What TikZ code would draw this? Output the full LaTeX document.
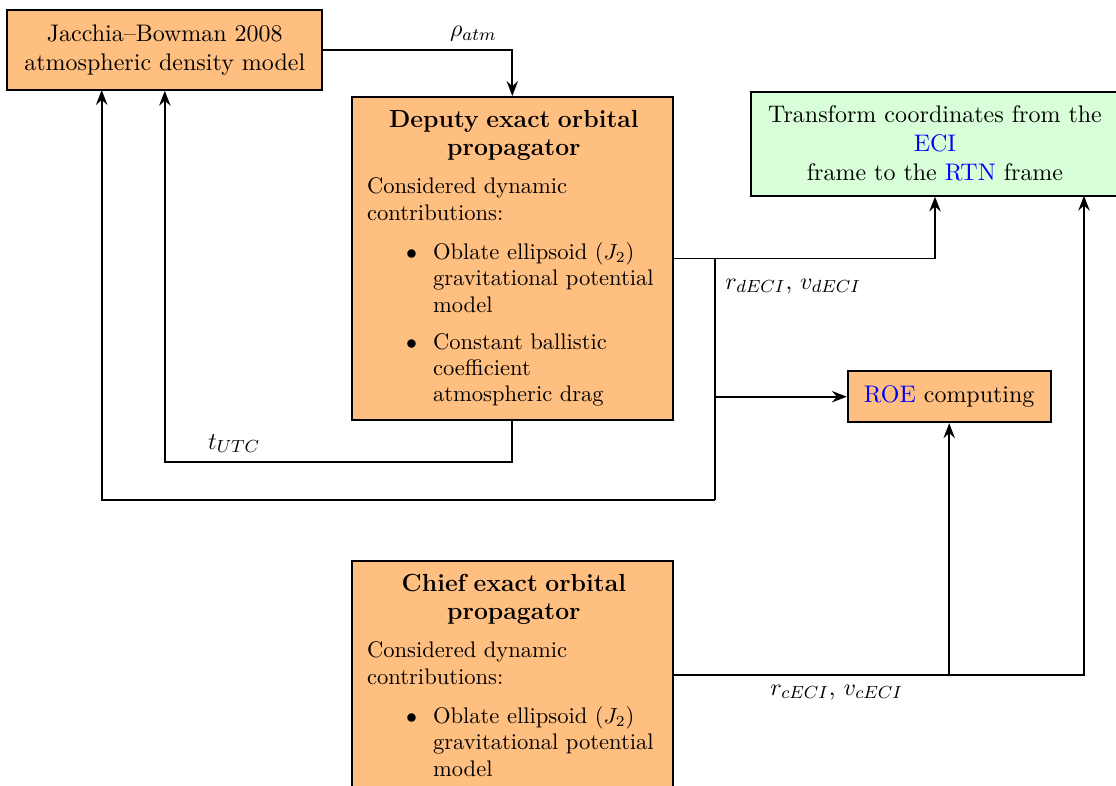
\documentclass[tikz,border=0pt]{standalone}
\usetikzlibrary{arrows.meta,calc}
\newenvironment{blist}{\begin{list}{$\bullet$}{%
  \setlength{\leftmargin}{30.1pt}\setlength{\labelsep}{7.3pt}%
  \setlength{\labelwidth}{20pt}\setlength{\itemsep}{5pt}%
  \setlength{\parsep}{0pt}\setlength{\topsep}{6pt}\setlength{\partopsep}{0pt}}}%
  {\end{list}}
\newcommand{\nohyph}{\hyphenpenalty=10000 \exhyphenpenalty=10000\relax}
\definecolor{boxor}{RGB}{255,191,128}
\definecolor{boxgr}{RGB}{217,255,217}
\tikzset{
  box/.style={draw, line width=0.8pt, fill=boxor, inner sep=0pt, align=center},
  grbox/.style={box, fill=boxgr},
  txt/.style={anchor=base west, inner sep=0pt, text width=134pt, align=left,
    font=\fontsize{10.3}{12}\selectfont},
  arr/.style={line width=0.8pt, -{Stealth[length=6.8pt,width=5.2pt,inset=2.3pt]}},
  ln/.style={line width=0.8pt},
  lab/.style={inner sep=0pt},
}
\newcommand{\ttl}[1]{{\centering\bfseries\fontsize{11.3}{12.8}\selectfont #1\par}\vspace{5.7pt}}
\begin{document}
\begin{tikzpicture}[x=0.4566pt, y=-0.4566pt, font=\fontsize{10.95}{13.2}\selectfont]
\useasboundingbox (0,0) rectangle (1116,785);
\clip (0,0) rectangle (1116,785);

% boxes
\node[box, minimum width=143.8pt, minimum height=36.5pt] (jb) at (164.8,50)
  {Jacchia--Bowman 2008\\atmospheric density model};
\node[box, anchor=north, minimum width=146.7pt, minimum height=147.6pt] (dep) at (512.3,96) {};
\node[box, anchor=north, minimum width=146.7pt, minimum height=104.4pt] (ch) at (512.3,560) {};
\node[grbox, minimum width=168.3pt, minimum height=47.5pt] (tr) at (935,143.7)
  {Transform coordinates from the\\ \textcolor{blue}{ECI}\\ frame to the \textcolor{blue}{RTN} frame};
\node[box, minimum width=92.7pt, minimum height=23.4pt] (roe) at (949.2,396.7)
  {\textcolor{blue}{ROE} computing};

% box texts
\node[txt] (deptxt) at (366.7,127) {\nohyph
  \ttl{Deputy exact orbital\\ propagator}
  Considered dynamic\newline contributions:
  \begin{blist}
  \item Oblate ellipsoid ($J_2$)\newline gravitational potential\newline model
  \item Constant ballistic\newline coefficient\newline atmospheric drag
  \end{blist}};
\node[txt] (chtxt) at (366.7,591) {\nohyph
  \ttl{Chief exact orbital\\ propagator}
  Considered dynamic\newline contributions:
  \begin{blist}
  \item Oblate ellipsoid ($J_2$)\newline gravitational potential\newline model
  \end{blist}};

% helper coordinates
\coordinate (br) at (715,257.65);
\coordinate (bl) at (715,500);
\coordinate (jbl) at (101.7,90);
\coordinate (tc) at (512.3,461.7);
\coordinate (trr) at (1084,195.7);

% connectors
\draw[arr] (jb.east) -| (dep.north);
\draw[arr] (dep.east) -| (tr.south);
\draw[ln] (br) -- (bl);
\draw[arr] (bl) -| (jbl);
\draw[arr] (br |- roe.west) -- (roe.west);
\draw[arr] (dep.south) -- (tc) -| (jb.south);
\draw[arr] (ch.east) -| (trr);
\draw[arr] (ch.east -| roe.south) -- (roe.south);

% labels
\node[lab, anchor=base] (lrho) at (473.3,36.5) {$\rho_{atm}$};
\node[lab, anchor=base west] (lt) at (207.7,449) {$t_{UTC}$};
\node[lab, anchor=base west] (ld) at (725,289) {$r_{dECI}$, $v_{dECI}$};
\node[lab, anchor=base west] (lc) at (770,695) {$r_{cECI}$, $v_{cECI}$};
\end{tikzpicture}
\end{document}
